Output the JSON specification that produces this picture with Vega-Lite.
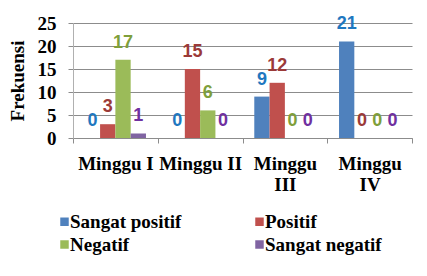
{
  "$schema": "https://vega.github.io/schema/vega-lite/v6.json",
  "width": 339,
  "height": 115,
  "autosize": {"type": "none"},
  "padding": {"left": 73, "top": 23, "right": 15, "bottom": 138},
  "background": "white",
  "config": {
    "view": {"stroke": null},
    "font": "Liberation Serif, Times New Roman, serif"
  },
  "data": {
    "values": [
      {"week": "Minggu I", "series": "Sangat positif", "value": 0},
      {"week": "Minggu I", "series": "Positif", "value": 3},
      {"week": "Minggu I", "series": "Negatif", "value": 17},
      {"week": "Minggu I", "series": "Sangat negatif", "value": 1},
      {"week": "Minggu II", "series": "Sangat positif", "value": 0},
      {"week": "Minggu II", "series": "Positif", "value": 15},
      {"week": "Minggu II", "series": "Negatif", "value": 6},
      {"week": "Minggu II", "series": "Sangat negatif", "value": 0},
      {"week": "Minggu III", "series": "Sangat positif", "value": 9},
      {"week": "Minggu III", "series": "Positif", "value": 12},
      {"week": "Minggu III", "series": "Negatif", "value": 0},
      {"week": "Minggu III", "series": "Sangat negatif", "value": 0},
      {"week": "Minggu IV", "series": "Sangat positif", "value": 21},
      {"week": "Minggu IV", "series": "Positif", "value": 0},
      {"week": "Minggu IV", "series": "Negatif", "value": 0},
      {"week": "Minggu IV", "series": "Sangat negatif", "value": 0}
    ]
  },
  "encoding": {
    "x": {
      "field": "week",
      "type": "nominal",
      "sort": ["Minggu I", "Minggu II", "Minggu III", "Minggu IV"],
      "scale": {"paddingInner": 0, "paddingOuter": 0},
      "axis": {
        "title": null,
        "labelAngle": 0,
        "tickBand": "extent",
        "tickSize": 5,
        "tickColor": "#8c8c8c",
        "domainColor": "#8c8c8c",
        "labelPadding": 11,
        "labelBaseline": "top",
        "labelFont": "Liberation Serif, Times New Roman, serif",
        "labelFontWeight": "bold",
        "labelFontSize": 19,
        "labelColor": "black",
        "labelLineHeight": 21,
        "labelOverlap": false,
        "labelBound": false,
        "labelExpr": "datum.value == 'Minggu III' ? ['Minggu', 'III'] : datum.value == 'Minggu IV' ? ['Minggu', 'IV'] : datum.value"
      }
    },
    "xOffset": {
      "field": "series",
      "type": "nominal",
      "sort": ["Sangat positif", "Positif", "Negatif", "Sangat negatif"],
      "scale": {"paddingInner": 0, "paddingOuter": 0.77}
    },
    "y": {
      "field": "value",
      "type": "quantitative",
      "scale": {"domain": [0, 25]},
      "axis": {
        "values": [0, 5, 10, 15, 20, 25],
        "grid": true,
        "gridColor": "#8c8c8c",
        "domainColor": "#b0b0b0",
        "tickColor": "#8c8c8c",
        "tickSize": 5,
        "labelPadding": 12,
        "labelFont": "Liberation Serif, Times New Roman, serif",
        "labelFontWeight": "bold",
        "labelFontSize": 19,
        "labelColor": "black",
        "title": "Frekuensi",
        "titleFont": "Liberation Serif, Times New Roman, serif",
        "titleFontWeight": "bold",
        "titleFontSize": 19,
        "titleColor": "black",
        "titlePadding": 10
      }
    }
  },
  "layer": [
    {
      "mark": {"type": "bar"},
      "encoding": {
        "color": {
          "field": "series",
          "type": "nominal",
          "sort": ["Sangat positif", "Positif", "Negatif", "Sangat negatif"],
          "scale": {
            "domain": ["Sangat positif", "Positif", "Negatif", "Sangat negatif"],
            "range": ["#4F81BD", "#C0504D", "#9BBB59", "#8064A2"]
          },
          "legend": {
            "title": null,
            "orient": "none",
            "direction": "horizontal",
            "padding": 0,
            "legendX": -18,
            "legendY": 189,
            "columns": 2,
            "columnPadding": 68,
            "rowPadding": 3,
            "symbolType": "square",
            "symbolSize": 72,
            "symbolStrokeWidth": 0,
            "labelOffset": -4,
            "labelFont": "Liberation Serif, Times New Roman, serif",
            "labelFontWeight": "bold",
            "labelFontSize": 19,
            "labelColor": "black",
            "labelLimit": 300
          }
        }
      }
    },
    {
      "mark": {
        "type": "text",
        "baseline": "alphabetic",
        "dy": -12,
        "font": "Liberation Sans",
        "fontWeight": "bold",
        "fontSize": 18
      },
      "encoding": {
        "text": {"field": "value", "type": "quantitative"},
        "color": {
          "field": "series",
          "type": "nominal",
          "scale": {
            "domain": ["Sangat positif", "Positif", "Negatif", "Sangat negatif"],
            "range": ["#1F78C0", "#9B3A38", "#7F9F3B", "#7030A0"]
          },
          "legend": null
        }
      }
    }
  ],
  "resolve": {"scale": {"color": "independent"}}
}
